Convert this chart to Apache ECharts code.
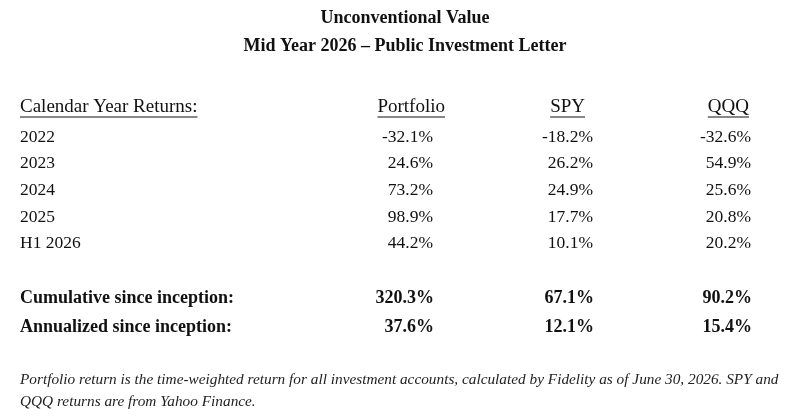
<!DOCTYPE html>
<html>
<head>
<meta charset="UTF-8" />
<script src="https://cdn.jsdelivr.net/npm/echarts@6/dist/echarts.min.js"></script>
<style>html,body{margin:0;background:#fff}#c{width:810px;height:417px}</style>
</head>
<body>
<div id="c"></div>
<script>
const titles = ["Unconventional Value", "Mid Year 2026 – Public Investment Letter"];
const headers = ["Calendar Year Returns:", "Portfolio", "SPY", "QQQ"];
const years = ["2022", "2023", "2024", "2025", "H1 2026"];
const portfolio = ["-32.1%", "24.6%", "73.2%", "98.9%", "44.2%"];
const spy = ["-18.2%", "26.2%", "24.9%", "17.7%", "10.1%"];
const qqq = ["-32.6%", "54.9%", "25.6%", "20.8%", "20.2%"];
const summary = [
  ["Cumulative since inception:", "320.3%", "67.1%", "90.2%"],
  ["Annualized since inception:", "37.6%", "12.1%", "15.4%"]
];
const footnote = [
  "Portfolio return is the time-weighted return for all investment accounts, calculated by Fidelity as of June 30, 2026. SPY and",
  "QQQ returns are from Yahoo Finance."
];

const FONT = '"Liberation Serif", serif';
const colX = [20, 433, 593, 751];
const headX = [20, 445, 585, 749];
const ctx = document.createElement('canvas').getContext('2d');
ctx.font = '19px ' + FONT;

const g = [];
function txt(s, x, y, o) {
  g.push({ type: 'text', x, y, style: Object.assign({ text: s, fill: '#111', font: '17.5px ' + FONT, textVerticalAlign: 'middle' }, o || {}) });
}
titles.forEach((t, i) => txt(t, 405, 18 + i * 28, { textAlign: 'center', font: 'bold 18px ' + FONT }));
headers.forEach((h, i) => {
  const align = i === 0 ? 'left' : 'right';
  txt(h, headX[i], 107, { textAlign: align, font: '19px ' + FONT });
  const w = ctx.measureText(h).width;
  const x1 = i === 0 ? headX[i] : headX[i] - w;
  g.push({ type: 'line', shape: { x1, y1: 117, x2: x1 + w, y2: 117 }, style: { stroke: '#111', lineWidth: 1 } });
});
years.forEach((y, r) => {
  const yy = 137 + r * 26.7;
  [y, portfolio[r], spy[r], qqq[r]].forEach((v, c) => txt(v, colX[c], yy, { textAlign: c ? 'right' : 'left' }));
});
summary.forEach((row, r) => {
  row.forEach((v, c) => txt(v, colX[c] + (c ? 1 : 0), 298 + r * 29, { textAlign: c ? 'right' : 'left', font: 'bold 18px ' + FONT }));
});
footnote.forEach((f, i) => txt(f, 20, 380 + i * 22, { font: 'italic 15.3px ' + FONT, fill: '#222' }));

const chart = echarts.init(document.getElementById('c'));
chart.setOption({ backgroundColor: '#fff', graphic: g });
</script>
</body>
</html>
